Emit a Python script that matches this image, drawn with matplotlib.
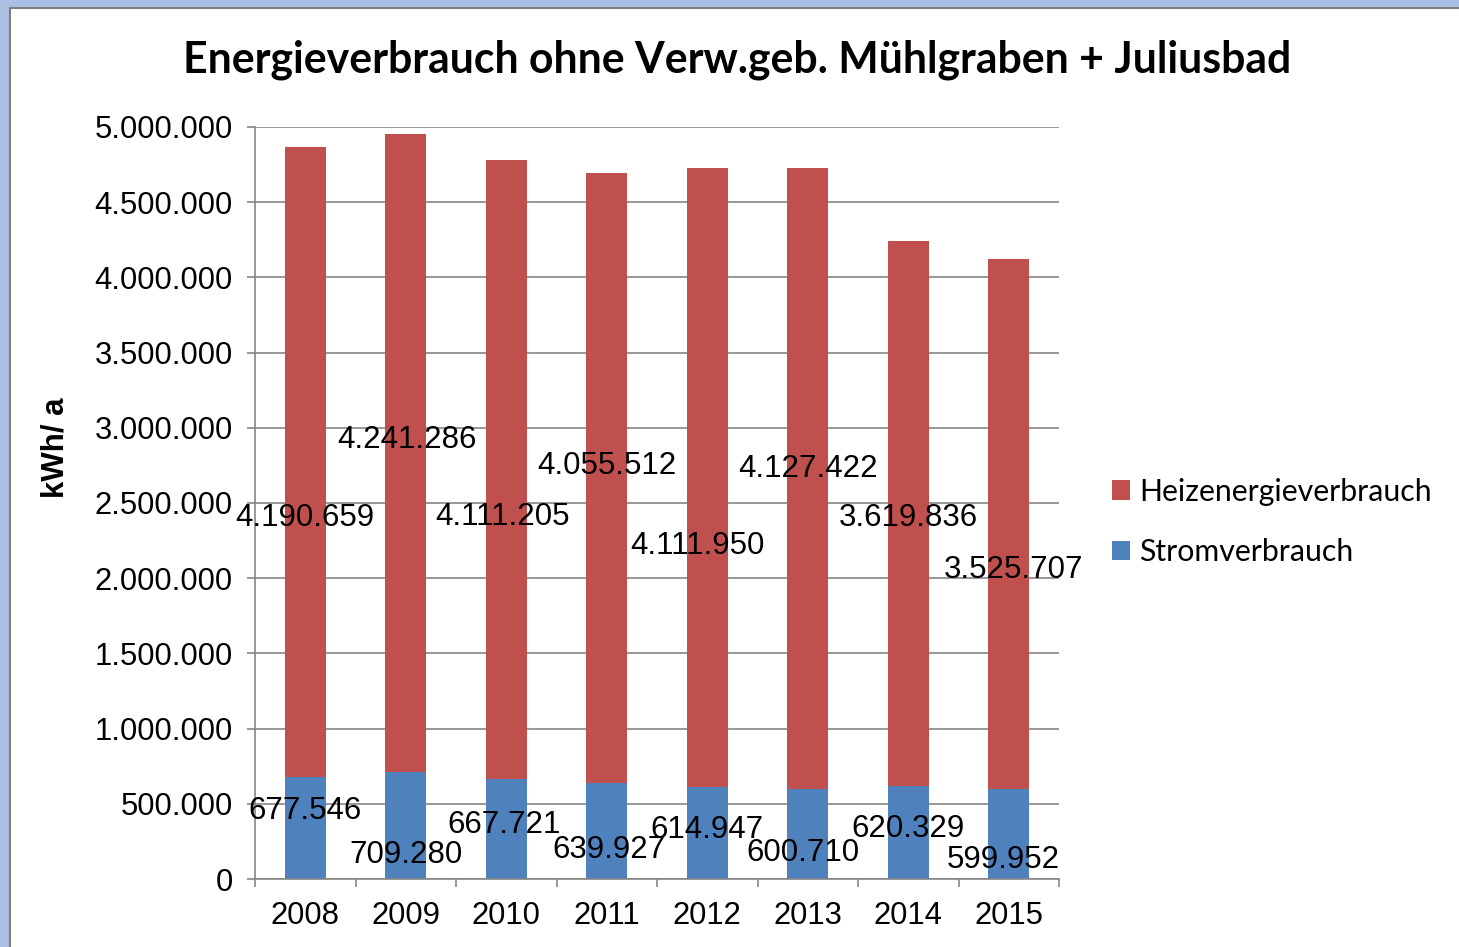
import numpy as np
import matplotlib
matplotlib.use("Agg")
import matplotlib.pyplot as plt
from matplotlib.patches import Rectangle
from matplotlib.ticker import FuncFormatter, MultipleLocator
from matplotlib.transforms import ScaledTranslation

years = ["2008", "2009", "2010", "2011", "2012", "2013", "2014", "2015"]
strom = [677546, 709280, 667721, 639927, 614947, 600710, 620329, 599952]
heiz = [4190659, 4241286, 4111205, 4055512, 4111950, 4127422, 3619836, 3525707]

# where Excel put the data labels (y in data units, x shift in category units)
heiz_lab_y = [2420000, 2939000, 2427000, 2766000, 2234000, 2746000, 2420000, 2074000]
heiz_lab_dx = [0, 0.015, -0.04, 0, -0.1, 0, 0, 0.045]
strom_lab_y = [472000, 180000, 379000, 213000, 346000, 193000, 352000, 146000]
strom_lab_dx = [0, 0, -0.02, 0.025, 0, -0.045, 0, -0.055]

red = "#C0504D"
blue = "#4F81BD"


def de_fmt(v):
    return f"{int(round(v)):,}".replace(",", ".")


fig = plt.figure(figsize=(14.59, 9.47), dpi=100)
fig.patch.set_facecolor("#A9BFE4")
# white chart area with grey border
fig.patches.append(Rectangle((10 / 1459, -0.01), 1.0, 1 - 8 / 947 + 0.01,
                             transform=fig.transFigure, facecolor="white",
                             edgecolor="#7F7F7F", linewidth=1.5, zorder=-1))

ax = fig.add_axes([255 / 1459, 1 - 879 / 947, (1059 - 255) / 1459, (879 - 127) / 947])
ax.set_facecolor("none")

x = np.arange(len(years))
w = 0.41
ax.bar(x, strom, w, color=blue, label="Stromverbrauch", zorder=2)
ax.bar(x, heiz, w, bottom=strom, color=red, label="Heizenergieverbrauch", zorder=2)

shift = ax.transData + ScaledTranslation(0, -3 / 100, fig.dpi_scale_trans)
for i in range(len(years)):
    ax.text(x[i] + heiz_lab_dx[i], heiz_lab_y[i], de_fmt(heiz[i]), ha="center", va="center",
            fontsize=22.5, family="Liberation Sans", zorder=3, transform=shift)
    ax.text(x[i] + strom_lab_dx[i], strom_lab_y[i], de_fmt(strom[i]), ha="center", va="center",
            fontsize=22.5, family="Liberation Sans", zorder=3, transform=shift)

ax.set_xlim(-0.5, len(years) - 0.5)
ax.set_ylim(0, 5000000)
ax.yaxis.set_major_locator(MultipleLocator(500000))
ax.yaxis.set_major_formatter(FuncFormatter(lambda v, p: de_fmt(v)))
ax.grid(axis="y", color="#868686", linewidth=1.2, zorder=1)
ax.set_axisbelow(True)

ax.set_xticks(x)
ax.set_xticklabels(years)
ax.set_xticks(np.arange(-0.5, len(years)), minor=True)
ax.tick_params(axis="x", which="major", length=0, pad=16)
ax.tick_params(axis="x", which="minor", length=6, width=1.2, color="#868686")
ax.tick_params(axis="y", length=6, width=1.2, color="#868686", pad=10)
for lab in ax.get_xticklabels() + ax.get_yticklabels():
    lab.set_fontsize(22.3)
    lab.set_family("Liberation Sans")

for s in ["top", "right"]:
    ax.spines[s].set_visible(False)
for s in ["left", "bottom"]:
    ax.spines[s].set_color("#868686")
    ax.spines[s].set_linewidth(1.2)

fig.text(56 / 1459, 1 - 448 / 947, "kWh/ a", rotation=90, ha="center", va="center",
         fontsize=22.5, fontweight="bold", family="Liberation Sans")

fig.text(737 / 1459, 1 - 60 / 947, "Energieverbrauch ohne Verw.geb. Mühlgraben + Juliusbad",
         ha="center", va="center", fontsize=30.8, fontweight="bold", family="Lato")

handles, labels = ax.get_legend_handles_labels()
leg = fig.legend(handles[::-1], labels[::-1], loc="center left",
                 bbox_to_anchor=(1097 / 1459, 1 - 522 / 947), frameon=False,
                 prop={"family": "Lato", "size": 21.8}, handlelength=0.6, handleheight=0.6,
                 handletextpad=0.3, labelspacing=1.08, borderpad=0)

fig.savefig("out.png", dpi=100, facecolor=fig.get_facecolor())
